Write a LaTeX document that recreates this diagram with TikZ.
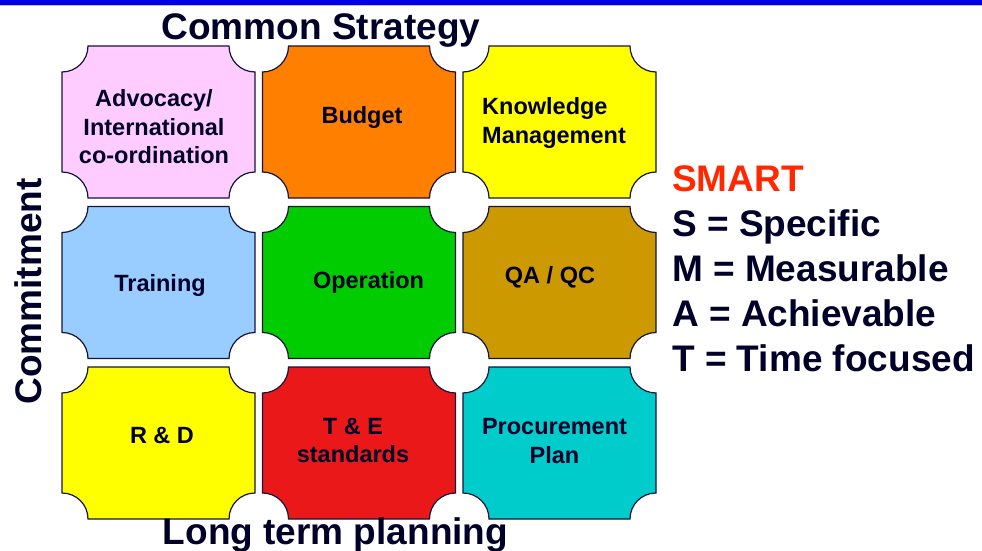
\documentclass[tikz,border=0pt]{standalone}
\usepackage{fontspec}
\setmainfont{Liberation Sans}
\definecolor{ink}{RGB}{0,0,40}
\definecolor{tileline}{RGB}{20,20,60}
\definecolor{advpink}{RGB}{255,204,255}
\definecolor{budorange}{RGB}{255,128,0}
\definecolor{kmyellow}{RGB}{255,255,0}
\definecolor{trainblue}{RGB}{153,204,255}
\definecolor{opgreen}{RGB}{0,204,0}
\definecolor{qagold}{RGB}{204,153,0}
\definecolor{tered}{RGB}{234,24,24}
\definecolor{proccyan}{RGB}{0,204,204}
\definecolor{smartred}{RGB}{255,40,0}
\definecolor{barblue}{RGB}{0,0,230}

% tile with the four corners cut out by quarter circles
\newcommand{\plaque}[2]{%
  \filldraw[tileedge,fill=#2]
    ([yshift=26pt]#1.south west) -- ([yshift=-26pt]#1.north west)
    arc[start angle=-90,end angle=0,radius=26pt]
    -- ([xshift=-26pt]#1.north east)
    arc[start angle=180,end angle=270,radius=26pt]
    -- ([yshift=26pt]#1.south east)
    arc[start angle=90,end angle=180,radius=26pt]
    -- ([xshift=26pt]#1.south west)
    arc[start angle=0,end angle=90,radius=26pt] -- cycle;}

\begin{document}
\begin{tikzpicture}[x=1pt,y=1pt,
    tile/.style={rectangle,minimum width=193pt,minimum height=152pt,inner sep=0pt,outer sep=0pt},
    tileedge/.style={draw=tileline,line width=1.2pt},
    lbl/.style={text=ink,font=\fontsize{23.5}{28.5}\selectfont\bfseries,align=center,inner sep=0pt},
    big/.style={text=ink,font=\fontsize{37}{45}\selectfont\bfseries,inner sep=0pt}]
  \useasboundingbox (0,0) rectangle (982,550);
  \fill[barblue] (0,544.5) rectangle (982,550);
  \fill[barblue!25] (0,543.5) rectangle (982,544.5);

  \node[tile] (adv) at (158.5,428) {};
  \node[tile] (bud) at (359,428) {};
  \node[tile] (km) at (559.5,428) {};
  \node[tile] (train) at (158.5,267.5) {};
  \node[tile] (oper) at (359,267.5) {};
  \node[tile] (qaqc) at (559.5,267.5) {};
  \node[tile] (rd) at (158.5,107) {};
  \node[tile] (te) at (359,107) {};
  \node[tile] (proc) at (559.5,107) {};

  \plaque{adv}{advpink}
  \plaque{bud}{budorange}
  \plaque{km}{kmyellow}
  \plaque{train}{trainblue}
  \plaque{oper}{opgreen}
  \plaque{qaqc}{qagold}
  \plaque{rd}{kmyellow}
  \plaque{te}{tered}
  \plaque{proc}{proccyan}

  % multi-line labels sit on the baseline of their last line
  \node[lbl,anchor=base] (advlbl) at (154,386) {Advocacy/\\International\\co-ordination};
  \node[lbl,anchor=base] (budlbl) at (362,426.5) {Budget};
  \node[lbl,anchor=base west,align=left] (kmlbl) at (482,406.7) {Knowledge\\Management};
  \node[lbl,anchor=base] (trainlbl) at (160,258.5) {Training};
  \node[lbl,anchor=base] (operlbl) at (368.5,261.7) {Operation};
  \node[lbl,anchor=base] (qaqclbl) at (550,266.5) {QA / QC};
  \node[lbl,anchor=base] (rdlbl) at (162,106.5) {R \& D};
  \node[lbl,anchor=base] (telbl) at (353,87.3) {T \& E\\standards};
  \node[lbl,anchor=base] (proclbl) at (554.5,86.7) {Procurement\\Plan};

  \node[big,anchor=base] (strategy) at (321,510.7) {Common Strategy};
  \node[big,anchor=base] (planning) at (335.5,6) {Long term planning};
  \node[big,anchor=base,rotate=90] (commit) at (41,258.5) {Commitment};

  \node[big,anchor=base west,text=smartred] (smart) at (672,359) {SMART};
  \node[big,anchor=base west] (spec) at (672,314) {S = Specific};
  \node[big,anchor=base west] (meas) at (672,269) {M = Measurable};
  \node[big,anchor=base west] (ach) at (672,224) {A = Achievable};
  \node[big,anchor=base west] (time) at (672,179) {T = Time focused};
\end{tikzpicture}
\end{document}
